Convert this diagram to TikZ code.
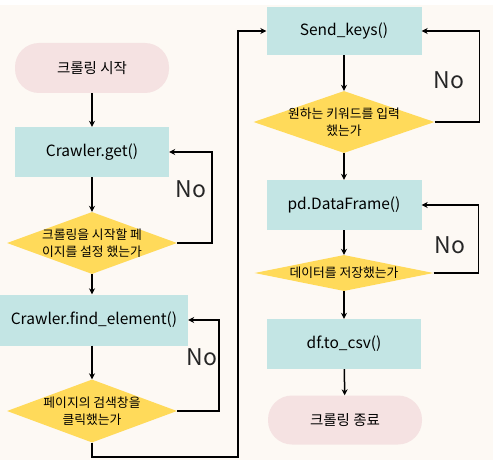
\documentclass[tikz,border=0pt]{standalone}
\usepackage{fontspec}
\setmainfont{Noto Sans CJK KR}
\usetikzlibrary{shapes.geometric,arrows.meta}

\definecolor{paper}{HTML}{FDF9F4}
\definecolor{boxteal}{HTML}{C3E5E4}
\definecolor{termpink}{HTML}{F5E2E2}
\definecolor{decyellow}{HTML}{FFDA5A}

\begin{document}
\begin{tikzpicture}[x=1pt,y=-1pt,
  proc/.style={rectangle,fill=boxteal,inner sep=0pt,minimum width=154pt,minimum height=50pt,font=\fontsize{15.5}{17}\selectfont},
  term/.style={rectangle,rounded corners=24pt,fill=termpink,inner sep=0pt,minimum width=154pt,minimum height=50pt,font=\fontsize{14.5}{16}\selectfont},
  dec/.style={diamond,fill=decyellow,inner sep=0pt,minimum width=170pt,minimum height=62pt},
  dtext/.style={align=center,inner sep=0pt,font=\fontsize{12.8}{17.5}\selectfont},
  nolabel/.style={font=\fontsize{23}{25}\selectfont,text=black!85},
  flow/.style={line width=1.5pt,-{Stealth[length=6pt,width=6pt]}}
]
%page
\useasboundingbox (0,0) rectangle (493,460);
\fill[white] (0,0) rectangle (493,5);
\fill[paper] (0,5) rectangle (493,460);

%left column
\node[term] (start) at (92,68) {크롤링 시작};
\node[proc] (get) at (92,152) {Crawler.get()};
\node[dec,label={[dtext]center:{크롤링을 시작할 페\\이지를 설정 했는가}}] (d1) at (92,243) {};
\node[proc,minimum width=188pt,minimum height=51pt] (find) at (94,320) {Crawler.find\_element()};
\node[dec,minimum height=63pt,label={[dtext]center:{페이지의 검색창을\\클릭했는가}}] (d2) at (92,411) {};

%right column
\node[proc,minimum width=155pt,minimum height=48pt] (keys) at (344,31) {Send\_keys()};
\node[dec,minimum width=181pt,label={[dtext]center:{원하는 키워드를 입력\\했는가}}] (d3) at (344,122) {};
\node[proc,minimum width=155pt] (frame) at (344,205) {pd.DataFrame()};
\node[dec,minimum width=179pt,minimum height=36pt,label={[dtext]center:{데이터를 저장했는가}}] (d4) at (344,273) {};
\node[proc] (csv) at (344,344) {df.to\_csv()};
\node[term,minimum height=49pt] (stop) at (345,420) {크롤링 종료};

%No labels
\node[nolabel] (no1) at (191,189) {No};
\node[nolabel] (no2) at (202,357) {No};
\node[nolabel] (no3) at (449,80) {No};
\node[nolabel] (no4) at (450,245) {No};

\coordinate (turn) at (238,457);

%main flow
\draw[flow] (start) -- (get);
\draw[flow] (get) -- (d1);
\draw[flow] (d1.south) -- (d1.south |- find.north);
\draw[flow] (find.south -| d2.north) -- (d2.north);
\draw[flow] (d2.south) |- (turn) |- (keys.west);
\draw[flow] (keys) -- (d3);
\draw[flow] (d3) -- (frame);
\draw[flow] (frame) -- (d4);
\draw[flow] (d4) -- (csv);
\draw[flow] (csv) -- (stop);

%No loops
\draw[flow] (d1.east) -- ++(35,0) |- (get.east);
\draw[flow] (d2.east) -- ++(42,0) |- (find.east);
\draw[flow] (d3.east) -- ++(45,0) |- (keys.east);
\draw[flow] (d4.east) -- ++(45,0) |- (frame.east);

\end{tikzpicture}
\end{document}
